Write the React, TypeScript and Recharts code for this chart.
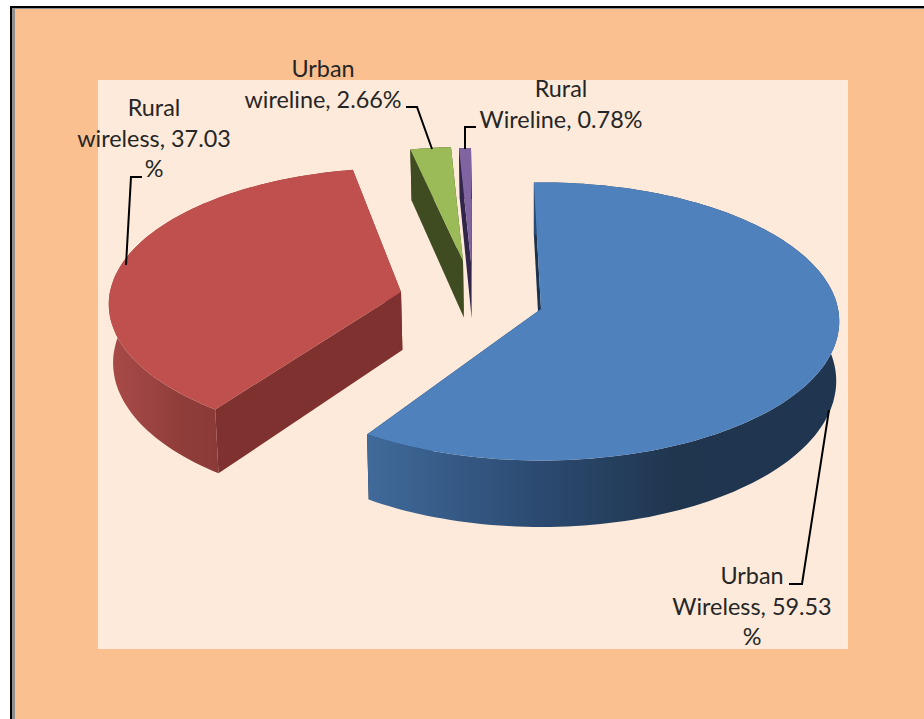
import React from 'react';
import { PieChart, Pie } from 'recharts';

const categories = ['Urban Wireless', 'Rural wireless', 'Urban wireline', 'Rural Wireline'];
const shares = [59.53, 37.03, 2.66, 0.78];
const labelLines = [
    ['Urban', 'Wireless, 59.53', '%'],
    ['Rural', 'wireless, 37.03', '%'],
    ['Urban', 'wireline, 2.66%'],
    ['Rural', 'Wireline, 0.78%'],
];

const pieData = categories.map((name, i) => ({ name, value: shares[i] }));

// look of each slice: explode offset from the pie centre, size, rotation (deg), colours
const sliceStyle = [
    { dx: 0, dy: 0, scale: 1, twist: -1.5, top: '#4f81bd', wall: '#1c3350', rim: ['#406a9a', '#2c4b72', '#20364f', '#1f3550'] },
    { dx: -140, dy: -17, scale: 0.98, twist: 2, top: '#c0504d', wall: '#7f312f', rim: ['#a84a47', '#9c4442', '#8f3d3a', '#8a3a38'] },
    { dx: -78, dy: -48, scale: 0.9, twist: 0, top: '#9bbb59', wall: '#3f4c22', rim: ['#3f4c22', '#3f4c22', '#3f4c22', '#3f4c22'] },
    { dx: -70, dy: -47, scale: 0.9, twist: 0, top: '#8064a2', wall: '#31264a', rim: ['#31264a', '#31264a', '#31264a', '#31264a'] },
];

const labelStyle = [
    { x: 752, y: 584, line: [[789, 584], [802, 584], [829, 410]] },
    { x: 154, y: 116, line: [[142, 177], [131, 177], [126, 265]] },
    { x: 323, y: 77, line: [[406, 107], [417, 107], [432, 149]] },
    { x: 561, y: 97, line: [[476, 127], [465, 127], [465, 149]] },
];

const RAD = Math.PI / 180;
const SQUASH = 138.4 / 298;
const PERSPECTIVE = 0.0896;
const VANISH_X = 541;

const project = (cx: number, cy: number, r: number, angle: number) => {
    const u = Math.cos(angle * RAD);
    const v = -Math.sin(angle * RAD);
    const d = 1 - PERSPECTIVE * v;
    return [cx + (r * u) / d, cy + (r * SQUASH * v) / d];
};

// same point on the underside of the slab
const lower = ([x, y]: number[]) => [VANISH_X + 0.99 * (x - VANISH_X), y + 58 + 0.05 * (y - 291)];

const toPath = (pts: number[][]) =>
    'M' + pts.map(([x, y]) => `${x.toFixed(1)},${y.toFixed(1)}`).join('L') + 'Z';

const SliceShape = (props: any) => {
    const { cx, cy, outerRadius, startAngle, endAngle, index } = props;
    const s = sliceStyle[index];
    const ax = cx + s.dx;
    const ay = cy + s.dy;
    const r = outerRadius * s.scale;
    const a0 = startAngle - s.twist;
    const a1 = endAngle - s.twist;
    const steps = Math.max(2, Math.ceil(Math.abs(a1 - a0) / 1.5));
    const rim: number[][] = [];
    for (let i = 0; i <= steps; i++) {
        rim.push(project(ax, ay, r, a0 + ((a1 - a0) * i) / steps));
    }
    const apex = [ax, ay];
    const rimLow = rim.map(lower);
    const first = rim[0];
    const last = rim[rim.length - 1];
    const gradId = `rim-${index}`;
    return (
        <g>
            <defs>
                <linearGradient id={gradId} gradientUnits="userSpaceOnUse" x1={index === 0 ? 368 : 110} x2={index === 0 ? 840 : 220} y1={0} y2={0}>
                    <stop offset="0" stopColor={s.rim[0]} />
                    <stop offset="0.35" stopColor={s.rim[1]} />
                    <stop offset="0.65" stopColor={s.rim[2]} />
                    <stop offset="1" stopColor={s.rim[3]} />
                </linearGradient>
            </defs>
            <path d={toPath([apex, first, lower(first), lower(apex)])} fill={s.wall} />
            <path d={toPath([apex, last, lower(last), lower(apex)])} fill={s.wall} />
            <path d={toPath([...rim, ...[...rimLow].reverse()])} fill={`url(#${gradId})`} />
            <path d={toPath([apex, ...rim])} fill={s.top} />
        </g>
    );
};

const SliceLabel = (props: any) => {
    const { index } = props;
    const l = labelStyle[index];
    return (
        <g>
            <polyline points={l.line.map((p) => p.join(',')).join(' ')} fill="none" stroke="#000" strokeWidth={2} />
            <text textAnchor="middle" fontFamily="Lato" fontSize={23.4} fill="#262626">
                {labelLines[index].map((t, i) => (
                    <tspan key={t} x={l.x} y={l.y + i * 30.5}>{t}</tspan>
                ))}
            </text>
        </g>
    );
};

export default function App() {
    return (
        <div style={{ position: 'absolute', left: 0, top: 0, width: 924, height: 719, overflow: 'hidden', background: '#fff' }}>
            <div style={{ position: 'absolute', left: 10, top: 6, width: 914, height: 713, background: '#000' }} />
            <div style={{ position: 'absolute', left: 12, top: 8, width: 912, height: 711, background: '#8f8f8f' }} />
            <div style={{ position: 'absolute', left: 15, top: 9, width: 909, height: 710, background: '#fac090' }} />
            <div style={{ position: 'absolute', left: 98, top: 80, width: 750, height: 569, background: '#fdeada' }} />
            <div style={{ position: 'absolute', left: 0, top: 0 }}>
                <PieChart width={924} height={719} margin={{ top: 0, right: 0, bottom: 0, left: 0 }}>
                    <Pie
                        data={pieData}
                        dataKey="value"
                        nameKey="name"
                        cx={541}
                        cy={309}
                        outerRadius={297}
                        startAngle={90}
                        endAngle={-270}
                        isAnimationActive={false}
                        shape={SliceShape}
                        label={SliceLabel}
                        labelLine={false}
                    />
                </PieChart>
            </div>
        </div>
    );
}
